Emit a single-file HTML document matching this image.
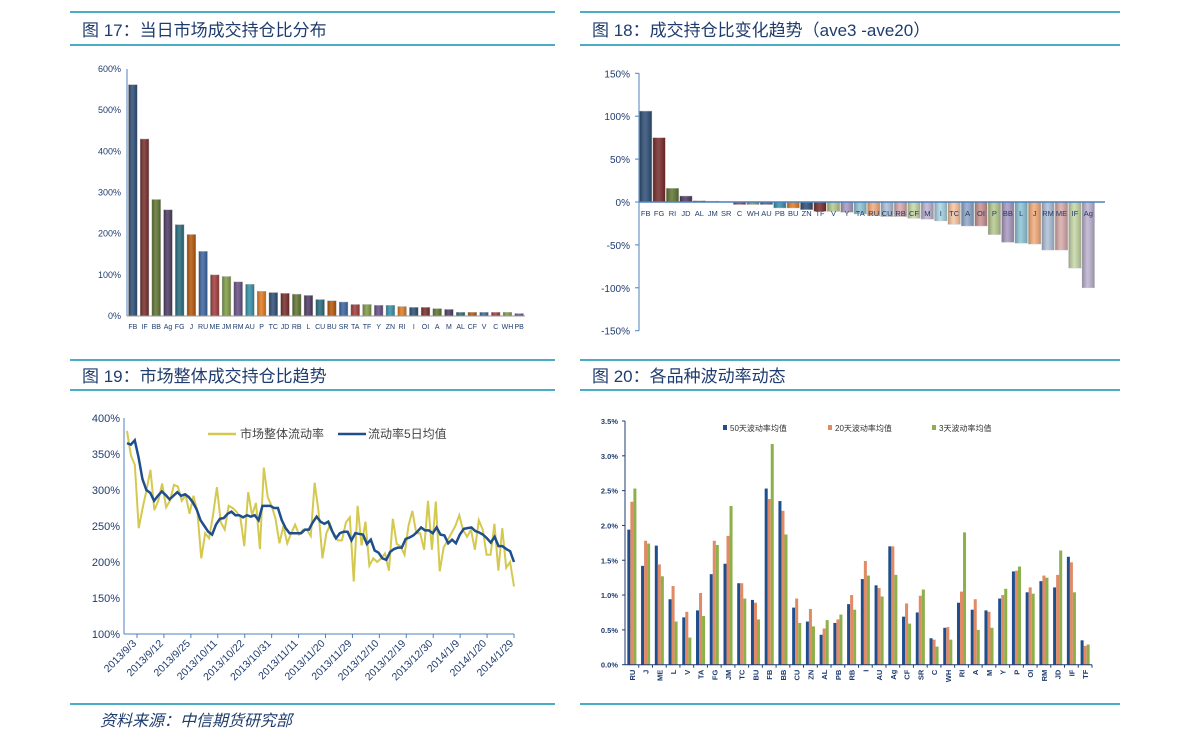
<!DOCTYPE html>
<html><head><meta charset="utf-8">
<style>
body{margin:0;background:#fff;width:1191px;height:751px;overflow:hidden;font-family:"Liberation Sans","Noto Sans CJK SC",sans-serif;}
svg text{font-family:"Liberation Sans","Noto Sans CJK SC",sans-serif;}
</style></head>
<body>
<svg id="s" width="1191" height="751" xmlns="http://www.w3.org/2000/svg">
<defs>
<linearGradient id="shade" x1="0" x2="1" y1="0" y2="0">
<stop offset="0" stop-color="#000" stop-opacity="0.25"/><stop offset="0.45" stop-color="#fff" stop-opacity="0.15"/><stop offset="1" stop-color="#000" stop-opacity="0.2"/>
</linearGradient>
</defs>
<g stroke="#4bacc6" stroke-width="2">
<line x1="70" y1="12" x2="555" y2="12"/><line x1="70" y1="45" x2="555" y2="45"/>
<line x1="580" y1="12" x2="1120" y2="12"/><line x1="580" y1="45" x2="1120" y2="45"/>
<line x1="70" y1="360" x2="555" y2="360"/><line x1="70" y1="390" x2="555" y2="390"/>
<line x1="580" y1="360" x2="1120" y2="360"/><line x1="580" y1="390" x2="1120" y2="390"/>
<line x1="70" y1="704" x2="555" y2="704"/><line x1="580" y1="704" x2="1120" y2="704"/>
</g>
<g fill="#1f3c6e" font-size="17">
<text x="82" y="36">图 17：当日市场成交持仓比分布</text>
<text x="592" y="36">图 18：成交持仓比变化趋势（ave3 -ave20）</text>
<text x="82" y="382">图 19：市场整体成交持仓比趋势</text>
<text x="592" y="382">图 20：各品种波动率动态</text>
</g>
<text x="100" y="726" font-size="16" fill="#1f3c6e" font-style="italic">资料来源：中信期货研究部</text>
<g id="c17"></g>
<g id="c18"></g>
<g id="c19"></g>
<g id="c20"></g>
</svg>
<script>
const cats17=["FB","IF","BB","Ag","FG","J","RU","ME","JM","RM","AU","P","TC","JD","RB","L","CU","BU","SR","TA","TF","Y","ZN","RI","I","OI","A","M","AL","CF","V","C","WH","PB"];
const vals17=[562,430,283,258,222,198,157,100,96,83,77,60,57,55,53,50,40,37,34,28,28,26,26,23,21,21,18,16,9,9,9,9,9,6];
const ticks17=[0,100,200,300,400,500,600];
const cats18=["FB","FG","RI","JD","AL","JM","SR","C","WH","AU","PB","BU","ZN","TF","V","Y","TA","RU","CU","RB","CF","M","I","TC","A","OI","P","BB","L","J","RM","ME","IF","Ag"];
const vals18=[106,75,16,7,1.5,1,0.5,-3,-3,-3,-7,-7,-9,-11,-11,-12,-14,-16,-17,-17,-19,-20,-22,-26,-28,-28,-38,-47,-48,-49,-56,-56,-77,-100];
const ticks18=[150,100,50,0,-50,-100,-150];
const dates19=["2013/9/3","2013/9/12","2013/9/25","2013/10/11","2013/10/22","2013/10/31","2013/11/11","2013/11/20","2013/11/29","2013/12/10","2013/12/19","2013/12/30","2014/1/9","2014/1/20","2014/1/29"];
const market19=[382,348,335,247,275,300,328,272,285,309,276,285,307,305,285,293,267,292,270,205,240,233,265,304,255,245,278,275,270,262,222,297,265,282,218,331,290,278,260,226,250,226,240,252,238,245,245,236,310,270,205,240,252,235,230,230,255,262,173,278,223,256,195,205,200,205,212,188,260,225,222,210,250,271,240,240,217,285,217,284,187,220,230,240,250,265,244,235,245,217,258,245,210,210,253,188,247,192,200,166];
const ma19=[365,363,369,345,315,300,296,285,292,298,293,287,292,297,292,294,290,283,273,258,250,242,238,252,260,261,267,270,265,265,262,265,263,265,258,278,278,278,275,275,258,247,240,240,240,240,245,245,255,263,256,253,256,243,233,240,242,242,230,240,239,238,225,231,216,213,205,203,214,218,220,220,232,234,237,242,248,244,244,240,248,238,237,226,231,226,238,246,247,248,243,241,238,233,227,235,222,222,218,215,200];
const ticks19=[100,150,200,250,300,350,400];
const cats20=["RU","J","ME","L","V","TA","FG","JM","TC","BU","FB","BB","CU","ZN","AL","PB","RB","I","AU","Ag","CF","SR","C","WH","RI","A","M","Y","P","OI","RM","JD","IF","TF"];
const vol50=[1.94,1.42,1.71,0.94,0.68,0.78,1.30,1.45,1.17,0.93,2.53,2.35,0.82,0.62,0.43,0.60,0.87,1.23,1.14,1.70,0.69,0.75,0.38,0.53,0.89,0.79,0.78,0.95,1.34,1.04,1.20,1.11,1.55,0.35];
const vol20=[2.34,1.78,1.44,1.13,0.76,1.03,1.78,1.85,1.17,0.89,2.38,2.21,0.95,0.80,0.52,0.65,1.00,1.49,1.10,1.70,0.88,0.99,0.36,0.54,1.05,0.94,0.76,1.00,1.35,1.11,1.28,1.29,1.47,0.27];
const vol3=[2.53,1.74,1.27,0.62,0.39,0.70,1.72,2.28,0.95,0.65,3.17,1.87,0.60,0.55,0.64,0.72,0.79,1.28,0.98,1.29,0.59,1.08,0.26,0.36,1.90,0.50,0.53,1.09,1.41,1.02,1.25,1.64,1.04,0.29];
const ticks20=[0,0.5,1,1.5,2,2.5,3,3.5];

const NS="http://www.w3.org/2000/svg";
function mk(parent,tag,attrs){const e=document.createElementNS(NS,tag);for(const k in attrs)e.setAttribute(k,attrs[k]);parent.appendChild(e);return e;}
const pal=["#2c4d75","#772c2a","#5f7530","#4d3b62","#276a7c","#b65708","#3a64a0","#a03c3a","#7e9c42","#674f84","#3590a8","#e07b20"];
const palLight=["#8fa6c8","#c89090","#b5c98e","#a898c0","#8ec4d6","#f4ac7a","#aebfd8","#d8aaaa","#c7d8a6","#bdb2d0","#a8d6e4","#f8c4a0"];
const axisC="#4f81bd", tickC="#1f3c6e";

// ---- Chart 17 ----
(function(){
const g=document.getElementById('c17');
const x0=127,x1=525,yb=316,yt=69;
const y=v=>yb-(v/600)*(yb-yt);
const bw=(x1-x0)/cats17.length;
ticks17.forEach(t=>{
 const tx=mk(g,'text',{x:x0-6,y:y(t)+3,'text-anchor':'end','font-size':9,fill:tickC});tx.textContent=t+'%';
 
 
});
cats17.forEach((c,i)=>{
 const h=yb-y(vals17[i]);
 const r=mk(g,'rect',{x:x0+i*bw+1.5,y:y(vals17[i]),width:bw-3,height:h,fill:pal[i%pal.length],stroke:'#bbb','stroke-width':0.5});
 
 
 mk(g,'rect',{x:x0+i*bw+1.5,y:y(vals17[i]),width:bw-3,height:h,fill:'url(#shade)'});
 const t=mk(g,'text',{x:x0+i*bw+bw/2,y:yb+13,'text-anchor':'middle','font-size':7,fill:tickC});t.textContent=c;
 
 
});
mk(g,'line',{x1:x0,y1:yt,x2:x0,y2:yb,stroke:axisC});
mk(g,'line',{x1:x0,y1:yb,x2:x1,y2:yb,stroke:'#999'});
})();

// ---- Chart 18 ----
(function(){
const g=document.getElementById('c18');
const x0=639,x1=1095,yt=73.3,yb=330.7;
const y=v=>yt+(150-v)/300*(yb-yt);
const bw=(x1-x0)/cats18.length;
ticks18.forEach(t=>{
 const tx=mk(g,'text',{x:x0-9,y:y(t)+4,'text-anchor':'end','font-size':10,fill:tickC});tx.textContent=t+'%';
 
 
 mk(g,'line',{x1:x0-4,y1:y(t),x2:x0,y2:y(t),stroke:axisC});
});
cats18.forEach((c,i)=>{
 const v=vals18[i];
 const top=Math.min(y(v),y(0)),h=Math.abs(y(v)-y(0));
 const col=i<14?pal[i%pal.length]:palLight[i%palLight.length];
 const r=mk(g,'rect',{x:x0+i*bw+0.5,y:top,width:bw-1,height:Math.max(h,0.5),fill:col,stroke:'#ccc','stroke-width':0.5});
 
 
 mk(g,'rect',{x:x0+i*bw+0.5,y:top,width:bw-1,height:Math.max(h,0.5),fill:'url(#shade)'});
 const t=mk(g,'text',{x:x0+i*bw+bw/2,y:y(0)+14,'text-anchor':'middle','font-size':7.5,fill:tickC});t.textContent=c;
 
 
});
mk(g,'line',{x1:x0,y1:yt,x2:x0,y2:yb,stroke:axisC});
mk(g,'line',{x1:x0,y1:y(0),x2:x1+10,y2:y(0),stroke:axisC,'stroke-width':1.5});
})();

// ---- Chart 19 ----
(function(){
const g=document.getElementById('c19');
const x0=124,x1=514,yt=418,yb=634;
const y=v=>yb-(v-100)/300*(yb-yt);
const N=market19.length;
const px=i=>127+i*(x1-127)/(N-1);
ticks19.forEach(t=>{
 const tx=mk(g,'text',{x:x0-4,y:y(t)+4,'text-anchor':'end','font-size':11,fill:tickC});tx.textContent=t+'%';
 
 
});
mk(g,'line',{x1:x0,y1:yt,x2:x0,y2:yb,stroke:axisC});
mk(g,'line',{x1:x0,y1:yb,x2:x1,y2:yb,stroke:axisC});
const tx0=137,tstep=(x1-tx0)/(dates19.length-1);
dates19.forEach((d,i)=>{
 const xx=tx0+i*tstep;
 mk(g,'line',{x1:xx,y1:yb,x2:xx,y2:yb+4,stroke:axisC});
 const t=mk(g,'text',{x:xx,y:yb+10,'text-anchor':'end','font-size':10.5,fill:tickC,transform:`rotate(-45 ${xx} ${yb+10})`});t.textContent=d;
 
 
});
const p1=mk(g,'polyline',{points:market19.map((v,i)=>px(i)+','+y(v)).join(' '),fill:'none',stroke:'#d4c94e','stroke-width':2});


const step2=(x1-127)/(ma19.length-1);
const p2=mk(g,'polyline',{points:ma19.map((v,i)=>(127+i*step2)+','+y(v)).join(' '),fill:'none',stroke:'#1f4e8c','stroke-width':2.5});


const lg=mk(g,'g',{});


mk(lg,'line',{x1:208,y1:434,x2:236,y2:434,stroke:'#d4c94e','stroke-width':2.5});
const l1=mk(lg,'text',{x:240,y:438,'font-size':12,fill:'#444'});l1.textContent='市场整体流动率';
mk(lg,'line',{x1:338,y1:434,x2:366,y2:434,stroke:'#1f4e8c','stroke-width':2.5});
const l2=mk(lg,'text',{x:368,y:438,'font-size':12,fill:'#444'});l2.textContent='流动率5日均值';
})();

// ---- Chart 20 ----
(function(){
const g=document.getElementById('c20');
const x0=625,x1=1092,yt=421,yb=664.7;
const y=v=>yb-v/3.5*(yb-yt);
const cw=(x1-x0)/cats20.length, bw=cw*0.22;
ticks20.forEach(t=>{
 const tx=mk(g,'text',{x:x0-7,y:y(t)+3,'text-anchor':'end','font-size':7.5,'font-weight':'bold',fill:tickC});tx.textContent=t.toFixed(1)+'%';
 
 
 mk(g,'line',{x1:x0-3,y1:y(t),x2:x0,y2:y(t),stroke:tickC});
});
const series=[[vol50,'#1f4e8c','50'],[vol20,'#e08a66','20'],[vol3,'#8db04a','3']];
cats20.forEach((c,i)=>{
 const cx=x0+i*cw+cw*0.17;
 series.forEach((s,k)=>{
  const r=mk(g,'rect',{x:cx+k*bw,y:y(s[0][i]),width:bw,height:yb-y(s[0][i]),fill:s[1]});
  
  
 });
 const lx=x0+i*cw+cw/2;
 const t=mk(g,'text',{x:lx+3,y:yb+5,'text-anchor':'end','font-size':7.5,'font-weight':'bold',fill:tickC,transform:`rotate(-90 ${lx+3} ${yb+5})`});t.textContent=c;
 
 
 mk(g,'line',{x1:x0+(i+1)*cw,y1:yb,x2:x0+(i+1)*cw,y2:yb+3,stroke:tickC});
});
mk(g,'line',{x1:x0,y1:yt,x2:x0,y2:yb,stroke:tickC});
mk(g,'line',{x1:x0,y1:yb,x2:x1,y2:yb,stroke:tickC});
const lg=mk(g,'g',{});


[['50天波动率均值',723,'#1f4e8c'],['20天波动率均值',828,'#e08a66'],['3天波动率均值',932,'#8db04a']].forEach(l=>{
 mk(lg,'rect',{x:l[1],y:425,width:4,height:5,fill:l[2]});
 const t=mk(lg,'text',{x:l[1]+7,y:431,'font-size':8,fill:'#333'});t.textContent=l[0];
});
})();
</script>
</body></html>
